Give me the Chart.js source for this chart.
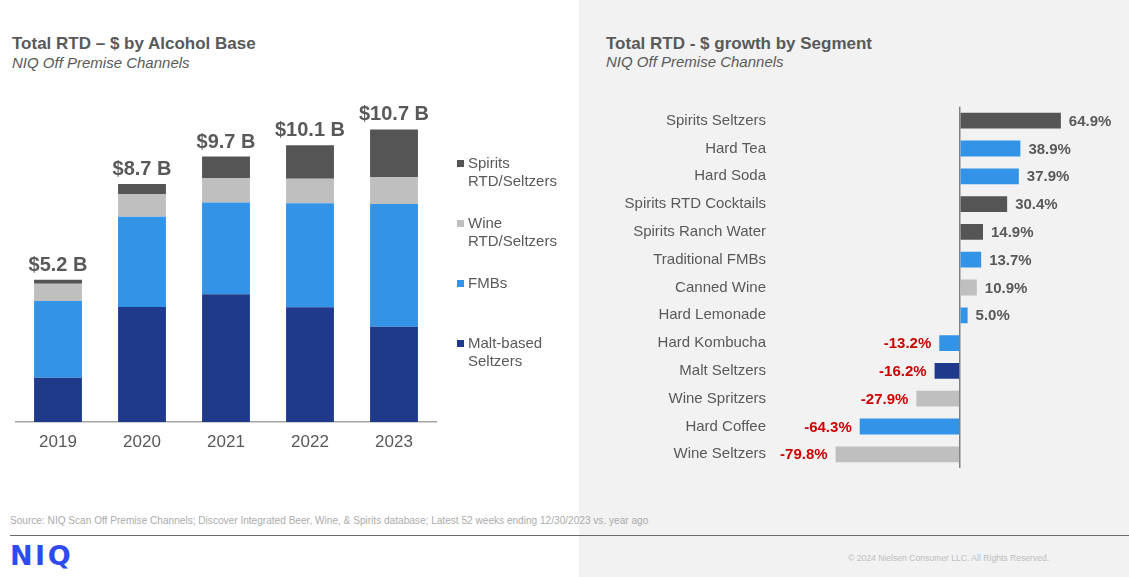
<!DOCTYPE html>
<html>
<head>
<meta charset="utf-8">
<script src="https://cdn.jsdelivr.net/npm/chart.js@4.4.1/dist/chart.umd.min.js"></script>
<style>
  body { margin: 0; width: 1129px; height: 577px; position: relative; overflow: hidden; background: #fff;
         font-family: "Liberation Sans", Arial, sans-serif; color: #595959; }
  .panel { position: absolute; left: 579px; top: 0; width: 550px; height: 577px; background: #f2f2f2; }
  .title { position: absolute; font-size: 17px; line-height: 20px; font-weight: bold; white-space: nowrap; }
  .sub { position: absolute; font-size: 15px; line-height: 18px; font-style: italic; white-space: nowrap; }
  canvas { position: absolute; }
  #baseChart { left: 0; top: 80px; }
  #growthChart { left: 580px; top: 90px; }
  .source { position: absolute; left: 10px; top: 515px; font-size: 10.1px; line-height: 12px; color: #ababab; white-space: nowrap; }
  .rule { position: absolute; left: 10px; top: 534.5px; width: 1119px; height: 1.5px; background: #6a6a6a; }
  .logo { position: absolute; left: 10px; top: 540px; font-family: "DejaVu Sans", sans-serif; font-weight: bold;
          font-size: 27px; line-height: 32px; letter-spacing: 2.5px; color: #2f4bf0; }
  .copy { position: absolute; left: 848px; top: 552px; font-size: 8.6px; line-height: 12px; color: #bdbdbd; white-space: nowrap; }
</style>
</head>
<body>
<div class="panel"></div>

<div class="title" style="left:12px; top:34px;">Total RTD – $ by Alcohol Base</div>
<div class="sub" style="left:12px; top:53.5px;">NIQ Off Premise Channels</div>
<div class="title" style="left:606px; top:33.5px;">Total RTD - $ growth by Segment</div>
<div class="sub" style="left:606px; top:52.5px;">NIQ Off Premise Channels</div>

<canvas id="baseChart" width="570" height="400"></canvas>
<canvas id="growthChart" width="549" height="390"></canvas>

<div class="source">Source: NIQ Scan Off Premise Channels; Discover Integrated Beer, Wine, &amp; Spirits database; Latest 52 weeks ending 12/30/2023 vs. year ago</div>
<div class="rule"></div>
<div class="logo">NIQ</div>
<div class="copy">© 2024 Nielsen Consumer LLC. All Rights Reserved.</div>

<script>
// left chart: $ billions by alcohol base
var years = ['2019', '2020', '2021', '2022', '2023'];
var maltSeltzers = [1.62, 4.20, 4.67, 4.19, 3.48];
var fmbs = [2.80, 3.30, 3.35, 3.80, 4.49];
var wineRtd = [0.63, 0.83, 0.90, 0.90, 0.98];
var spiritsRtd = [0.15, 0.37, 0.78, 1.22, 1.74];
var baseNames = [['Malt-based', 'Seltzers'], ['FMBs'], ['Wine', 'RTD/Seltzers'], ['Spirits', 'RTD/Seltzers']];

// right chart: % growth by segment
var segments = ['Spirits Seltzers', 'Hard Tea', 'Hard Soda', 'Spirits RTD Cocktails', 'Spirits Ranch Water',
                'Traditional FMBs', 'Canned Wine', 'Hard Lemonade', 'Hard Kombucha', 'Malt Seltzers',
                'Wine Spritzers', 'Hard Coffee', 'Wine Seltzers'];
var growth = [64.9, 38.9, 37.9, 30.4, 14.9, 13.7, 10.9, 5.0, -13.2, -16.2, -27.9, -64.3, -79.8];
var segmentBase = ['spirits', 'fmb', 'fmb', 'spirits', 'spirits', 'fmb', 'wine', 'fmb', 'fmb', 'malt', 'wine', 'fmb', 'wine'];

var COLORS = { malt: '#1f3a8b', fmb: '#3393e6', wine: '#bfbfbf', spirits: '#555555' };
var FONT = '"Liberation Sans", Arial, sans-serif';
var TEXT = '#595959';

Chart.defaults.font.family = FONT;
Chart.defaults.color = TEXT;

var totalsPlugin = {
    id: 'totals',
    afterDatasetsDraw: function (chart) {
        var ctx = chart.ctx;
        var sets = chart.data.datasets;
        var top = chart.getDatasetMeta(sets.length - 1);
        ctx.save();
        ctx.font = 'bold 20px ' + FONT;
        ctx.fillStyle = TEXT;
        ctx.textAlign = 'center';
        ctx.textBaseline = 'alphabetic';
        top.data.forEach(function (bar, i) {
            var total = 0;
            sets.forEach(function (d) { total += d.data[i]; });
            ctx.fillText('$' + total.toFixed(1) + ' B', bar.x, bar.y - 9);
        });
        ctx.restore();
    }
};

var sideLegend = {
    id: 'sideLegend',
    afterDraw: function (chart) {
        var ctx = chart.ctx;
        var x = chart.chartArea.right + 21;
        ctx.save();
        ctx.font = '15px ' + FONT;
        ctx.textAlign = 'left';
        ctx.textBaseline = 'middle';
        var sets = chart.data.datasets.slice().reverse();
        sets.forEach(function (d, i) {
            var y = 83.5 + i * 60;
            ctx.fillStyle = d.backgroundColor;
            ctx.fillRect(x, y - 3.5, 7, 7);
            ctx.fillStyle = TEXT;
            d.lines.forEach(function (line, j) {
                ctx.fillText(line, x + 11, y + 0.5 + j * 17.7);
            });
        });
        ctx.restore();
    }
};

var growthLabels = {
    id: 'growthLabels',
    afterDatasetsDraw: function (chart) {
        var ctx = chart.ctx;
        var values = chart.data.datasets[0].data;
        ctx.save();
        ctx.font = 'bold 15px ' + FONT;
        ctx.textBaseline = 'middle';
        chart.getDatasetMeta(0).data.forEach(function (bar, i) {
            var v = values[i];
            var txt = v.toFixed(1) + '%';
            if (v >= 0) {
                ctx.fillStyle = TEXT;
                ctx.textAlign = 'left';
                ctx.fillText(txt, bar.x + 8, bar.y + 1);
            } else {
                ctx.fillStyle = '#cc0000';
                ctx.textAlign = 'right';
                ctx.fillText(txt, bar.x - 8, bar.y + 1);
            }
        });
        ctx.restore();
    }
};

new Chart(document.getElementById('baseChart'), {
    type: 'bar',
    data: {
        labels: years,
        datasets: [
            { label: baseNames[0].join(' '), lines: baseNames[0], data: maltSeltzers, backgroundColor: COLORS.malt },
            { label: baseNames[1].join(' '), lines: baseNames[1], data: fmbs, backgroundColor: COLORS.fmb },
            { label: baseNames[2].join(' '), lines: baseNames[2], data: wineRtd, backgroundColor: COLORS.wine },
            { label: baseNames[3].join(' '), lines: baseNames[3], data: spiritsRtd, backgroundColor: COLORS.spirits }
        ]
    },
    options: {
        responsive: false,
        animation: false,
        layout: { padding: { left: 16, right: 134, top: 13.6, bottom: 0 } },
        datasets: { bar: { categoryPercentage: 1, barPercentage: 0.57 } },
        plugins: { legend: { display: false }, tooltip: { enabled: false } },
        scales: {
            x: {
                stacked: true,
                grid: { display: true, drawOnChartArea: false, drawTicks: false, color: 'rgba(0,0,0,0)' },
                border: { display: true, color: '#a6a6a6', width: 1.5 },
                ticks: { font: { size: 17 }, color: TEXT, padding: 10 },
                afterFit: function (s) { s.height = 58; s.paddingLeft = 0; s.paddingRight = 0; }
            },
            y: { stacked: true, display: false, min: 0, max: 12 }
        }
    },
    plugins: [totalsPlugin, sideLegend]
});

new Chart(document.getElementById('growthChart'), {
    type: 'bar',
    data: {
        labels: segments,
        datasets: [{
            data: growth,
            backgroundColor: segmentBase.map(function (b) { return COLORS[b]; })
        }]
    },
    options: {
        indexAxis: 'y',
        responsive: false,
        animation: false,
        layout: { padding: { left: 0, right: 13.5, top: 16.8, bottom: 11.8 } },
        datasets: { bar: { categoryPercentage: 1, barPercentage: 0.57 } },
        plugins: { legend: { display: false }, tooltip: { enabled: false } },
        scales: {
            x: {
                min: -120, max: 100,
                ticks: { display: false, stepSize: 10 },
                grid: {
                    drawTicks: false, lineWidth: 1.5,
                    color: function (c) { return c.tick && c.tick.value === 0 ? '#808080' : 'rgba(0,0,0,0)'; }
                },
                border: { display: false },
                afterFit: function (s) { s.height = 0; s.paddingLeft = 0; s.paddingRight = 0; }
            },
            y: {
                grid: { display: false, drawTicks: false },
                border: { display: false },
                ticks: { font: { size: 15 }, color: TEXT, padding: 7 },
                afterFit: function (s) { s.width = 193; s.paddingTop = 0; s.paddingBottom = 0; }
            }
        }
    },
    plugins: [growthLabels]
});
</script>
</body>
</html>
